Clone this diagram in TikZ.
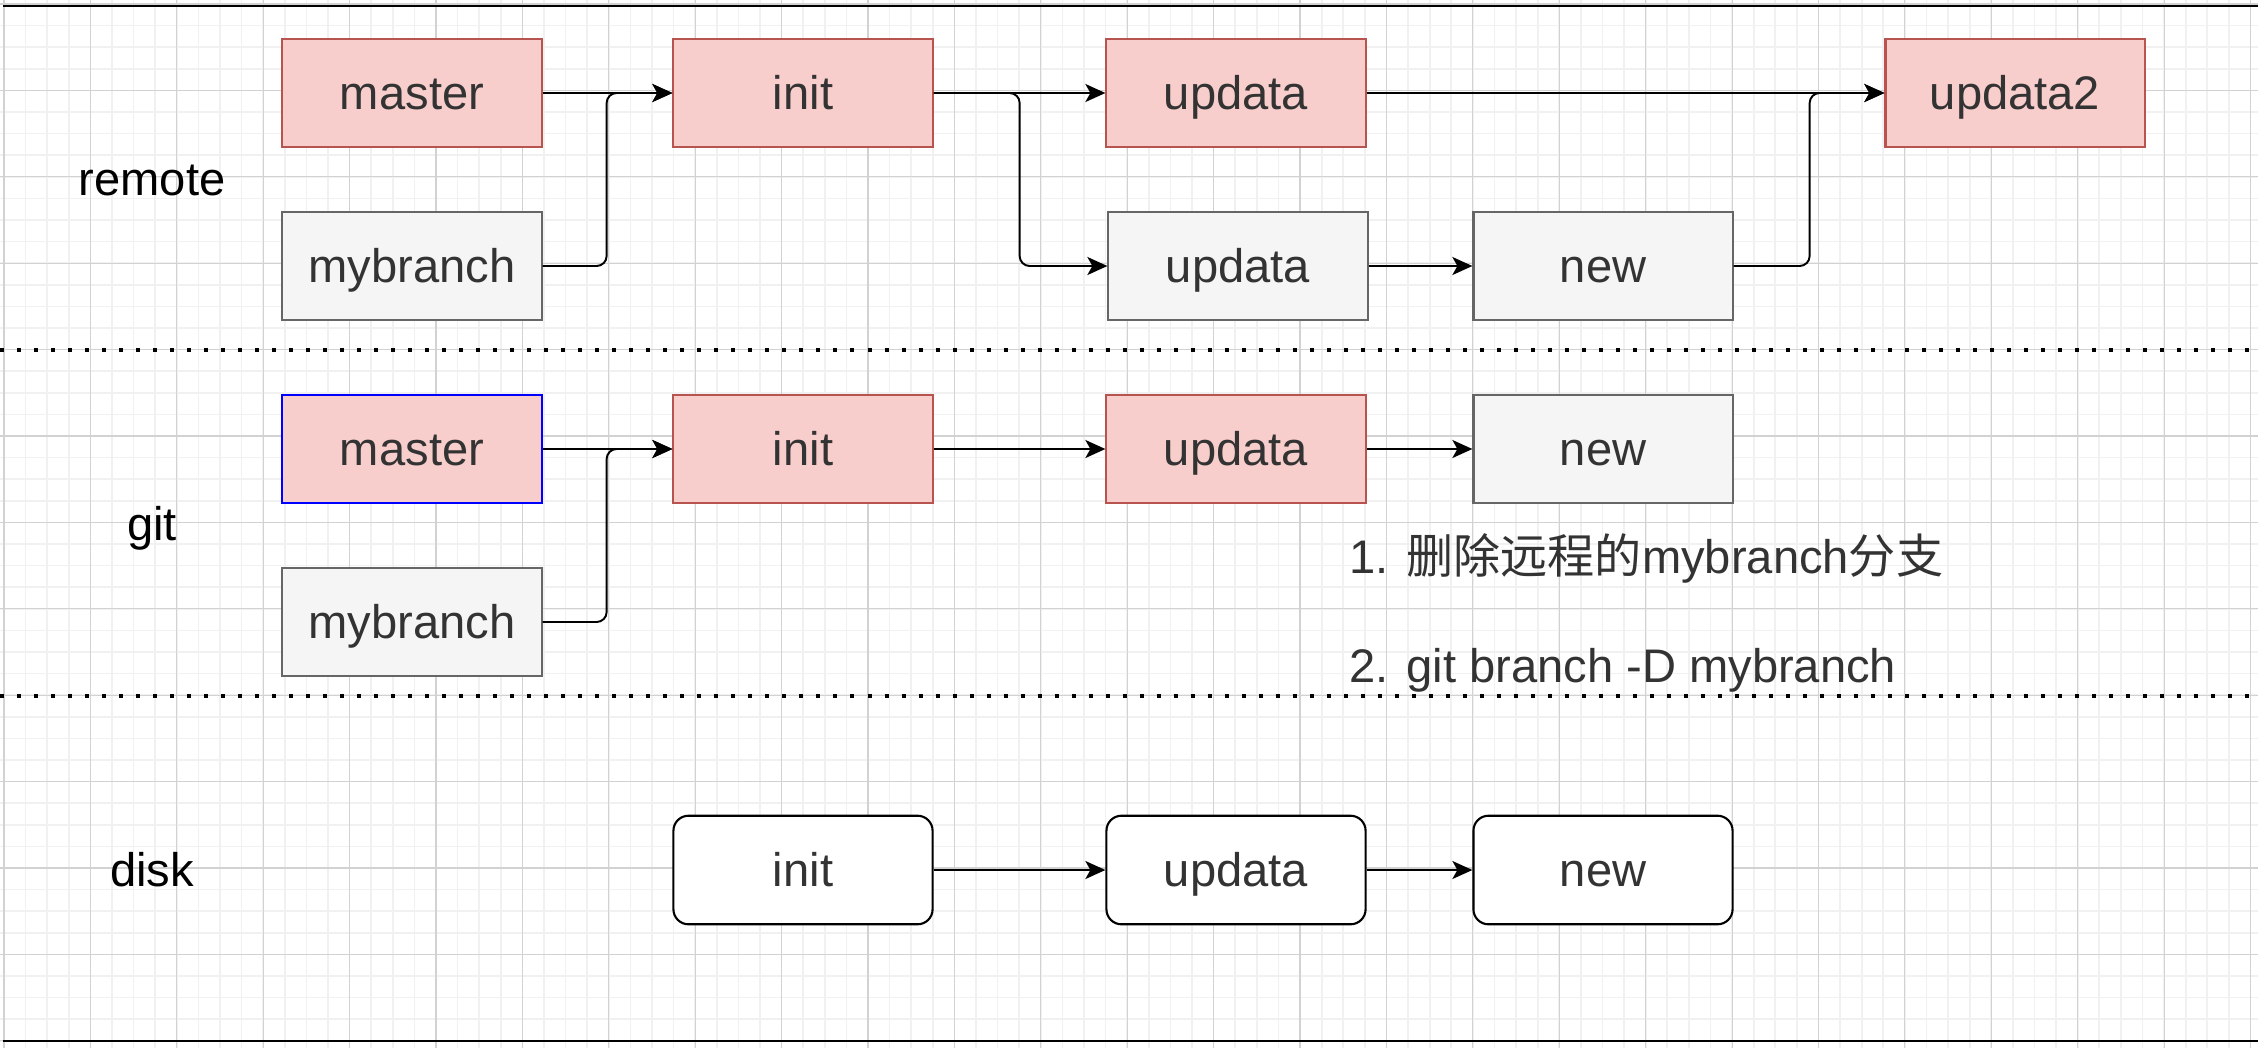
\documentclass[tikz,border=0pt]{standalone}
\usepackage{fontspec}
\setmainfont{Liberation Sans}
\newfontfamily\cjk{Noto Sans CJK SC}
\usetikzlibrary{arrows.meta,positioning}

\definecolor{redfill}{HTML}{F8CECC}
\definecolor{redline}{HTML}{B85450}
\definecolor{grayfill}{HTML}{F5F5F5}
\definecolor{grayline}{HTML}{666666}
\definecolor{txtgray}{HTML}{333333}
\definecolor{gridmaj}{HTML}{D2D2D2}
\definecolor{gridmin}{HTML}{F1F1F1}

\tikzset{
  txtfont/.style={font=\fontsize{13.4pt}{16pt}\selectfont},
  box/.style={draw, line width=0.6pt, minimum width=2.59cm, minimum height=1.085cm,
    inner sep=0pt, text height=0.42cm, text depth=0.10cm, text=txtgray, txtfont},
  redbox/.style={box, fill=redfill, draw=redline},
  graybox/.style={box, fill=grayfill, draw=grayline},
  bluebox/.style={box, fill=redfill, draw=blue},
  diskbox/.style={box, fill=white, draw=black, rounded corners=0.15cm},
  lane/.style={inner sep=0pt, text height=0.42cm, text depth=0.10cm, text=black, txtfont},
  note/.style={anchor=base west, inner sep=0pt, text=txtgray, txtfont},
  link/.style={-{Stealth[length=0.2cm,width=0.18cm,inset=0.05cm]}, line width=0.55pt, rounded corners=0.1cm},
  sepline/.style={line width=1.1pt, dash pattern=on 0.04cm off 0.13cm},
  rule/.style={line width=0.7pt},
}

\begin{document}
\begin{tikzpicture}[x=0.01cm, y=-0.01cm]
\useasboundingbox (0,0) rectangle (2258,1048);
\fill[white] (0,0) rectangle (2258,1048);
% background grid
\foreach \k in {0,...,104} \draw[gridmin, line width=0.5pt] ({4+21.6*\k},0) -- ({4+21.6*\k},1048);
\foreach \k in {0,...,48} \draw[gridmin, line width=0.5pt] (0,{4+21.6*\k}) -- (2258,{4+21.6*\k});
\foreach \k in {0,...,26} \draw[gridmaj, line width=0.3pt] ({4+86.4*\k},0) -- ({4+86.4*\k},1048);
\foreach \k in {0,...,12} \draw[gridmaj, line width=0.3pt] (0,{4+86.4*\k}) -- (2258,{4+86.4*\k});

% lanes
\draw[rule] (3,6) -- (2258,6);
\draw[sepline] (0,350) -- (2258,350);
\draw[sepline] (0,696) -- (2258,696);
\draw[rule] (3,1041) -- (2258,1041);

\node[lane] (remote) at (152,179) {remote};
\node[lane] (git) at (152,524) {git};
\node[lane] (disk) at (152,870) {disk};

% remote
\node[redbox] (rmaster) at (412,93) {master};
\node[graybox] (rbranch) at (412,266) {mybranch};
\node[redbox] (rinit) at (803,93) {init};
\node[redbox] (rupd) at (1236,93) {updata};
\node[graybox] (rupdb) at (1238,266) {updata};
\node[graybox] (rnew) at (1603,266) {new};
\node[redbox] (rupd2) at (2015,93) {updata2};

% git
\node[bluebox] (gmaster) at (412,449) {master};
\node[graybox] (gbranch) at (412,622) {mybranch};
\node[redbox] (ginit) at (803,449) {init};
\node[redbox] (gupd) at (1236,449) {updata};
\node[graybox] (gnew) at (1603,449) {new};

\node[note] (note1) at (1349,573) {1. {\cjk 删除远程的}mybranch{\cjk 分支}};
\node[note] (note2) at (1349,682) {2. git branch -D mybranch};

% disk
\node[diskbox] (dinit) at (803,870) {init};
\node[diskbox] (dupd) at (1236,870) {updata};
\node[diskbox] (dnew) at (1603,870) {new};

\draw[link] (rmaster) -- (rinit);
\draw[link] (rbranch.east) -- ++(64,0) |- (rinit.west);
\draw[link] (rinit) -- (rupd);
\draw[link] (rinit.east) -- ++(86,0) |- (rupdb.west);
\draw[link] (rupd) -- (rupd2);
\draw[link] (rupdb) -- (rnew);
\draw[link] (rnew.east) -- ++(76,0) |- (rupd2.west);

\draw[link] (gmaster) -- (ginit);
\draw[link] (gbranch.east) -- ++(64,0) |- (ginit.west);
\draw[link] (ginit) -- (gupd);
\draw[link] (gupd) -- (gnew);

\draw[link] (dinit) -- (dupd);
\draw[link] (dupd) -- (dnew);
\end{tikzpicture}
\end{document}
